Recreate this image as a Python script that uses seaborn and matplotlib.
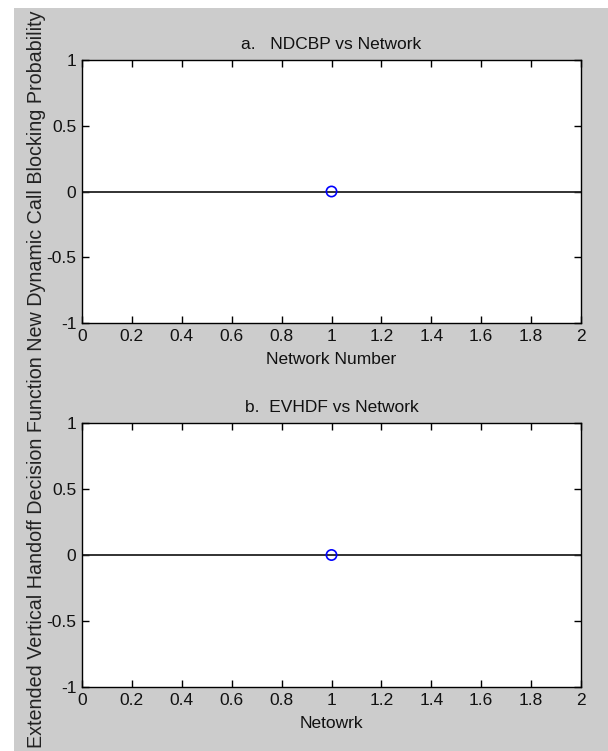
import matplotlib

matplotlib.use("Agg")
import matplotlib.pyplot as plt
import pandas as pd
import seaborn as sns
from matplotlib.patches import Rectangle

# values
network = [1]
ndcbp = [0]
evhdf = [0]
zero_x = [0, 2]
zero_y = [0, 0]
x_ticks = [0, 0.2, 0.4, 0.6, 0.8, 1, 1.2, 1.4, 1.6, 1.8, 2]
x_tick_labels = ["0", "0.2", "0.4", "0.6", "0.8", "1", "1.2", "1.4", "1.6", "1.8", "2"]
y_ticks = [-1, -0.5, 0, 0.5, 1]
y_tick_labels = ["-1", "-0.5", "0", "0.5", "1"]

titles = ["a.   NDCBP vs Network", "b.  EVHDF vs Network"]
xlabels = ["Network Number", "Netowrk"]
ylabel = ("Extended Vertical Handoff Decision Function "
          "New Dynamic Call Blocking Probability")

sns.set_theme(style="ticks")
plt.rcParams["font.family"] = ["Liberation Sans Narrow", "Liberation Sans", "DejaVu Sans"]
plt.rcParams["xtick.direction"] = "in"
plt.rcParams["ytick.direction"] = "in"

W, H = 608, 751
fig = plt.figure(figsize=(W / 100, H / 100), dpi=100)
fig.patch.set_facecolor("white")
fig.patches.append(Rectangle((14 / W, 0), 1 - 14 / W, 1 - 8 / H,
                             transform=fig.transFigure, facecolor="#cccccc",
                             edgecolor="none", zorder=-10))

ax1 = fig.add_axes([82 / W, 1 - 323 / H, 499 / W, 263 / H])
ax2 = fig.add_axes([82 / W, 1 - 687 / H, 499 / W, 264 / H])

for ax, series, title, xl in zip([ax1, ax2], [ndcbp, evhdf], titles, xlabels):
    ax.set_facecolor("white")
    base = pd.DataFrame({"x": zero_x, "y": zero_y})
    sns.lineplot(data=base, x="x", y="y", ax=ax, color="#222222", linewidth=1.3)
    pts = pd.DataFrame({"x": network, "y": series})
    sns.scatterplot(data=pts, x="x", y="y", ax=ax, marker="o", s=55,
                    facecolors="none", edgecolor="blue", linewidth=1.2, zorder=5)
    ax.set_xlim(0, 2)
    ax.set_ylim(-1, 1)
    ax.set_xticks(x_ticks, x_tick_labels)
    ax.set_yticks(y_ticks, y_tick_labels)
    ax.tick_params(axis="both", which="both", direction="in", length=5, width=1,
                   color="black", top=True, right=True, labelsize=12.5,
                   labelcolor="#111111", pad=4)
    for sp in ax.spines.values():
        sp.set_visible(True)
        sp.set_color("black")
        sp.set_linewidth(1.0)
    ax.set_title(title, fontsize=12.5, color="#111111", pad=8)
    ax.set_xlabel(xl, fontsize=12.5, color="#111111", labelpad=6)
    ax.set_ylabel("")

fig.text(37 / W, 1 - 379 / H, ylabel, rotation=90, ha="center", va="center",
         fontsize=14.2, family=["Liberation Sans", "DejaVu Sans"], color="#222222")

fig.savefig("out.png", dpi=100, facecolor=fig.get_facecolor())
